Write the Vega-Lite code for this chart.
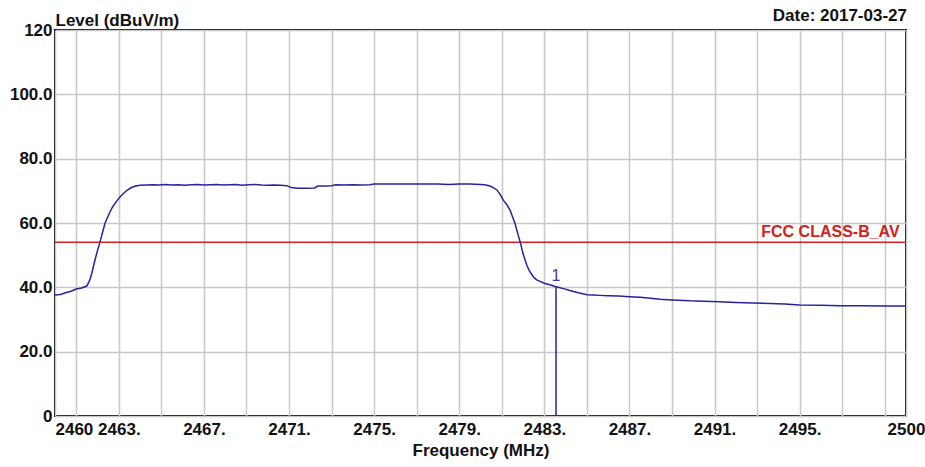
{
  "$schema": "https://vega.github.io/schema/vega-lite/v6.json",
  "width": 851,
  "height": 386,
  "autosize": {"type": "none"},
  "padding": {"left": 55, "top": 30, "right": 19, "bottom": 51},
  "background": "#ffffff",
  "config": {
    "font": "Liberation Sans",
    "view": {"stroke": "#000000", "strokeWidth": 2}
  },
  "datasets": {
    "trace": [
      {"f": 2460.00, "v": 37.6}, {"f": 2460.25, "v": 37.8}, {"f": 2460.50, "v": 38.3}, {"f": 2460.75, "v": 38.8},
      {"f": 2461.00, "v": 39.5}, {"f": 2461.25, "v": 39.8}, {"f": 2461.49, "v": 40.4}, {"f": 2461.62, "v": 42.0},
      {"f": 2461.73, "v": 44.4}, {"f": 2461.88, "v": 48.5}, {"f": 2462.00, "v": 51.5}, {"f": 2462.12, "v": 54.2},
      {"f": 2462.24, "v": 57.2}, {"f": 2462.35, "v": 59.9}, {"f": 2462.47, "v": 61.8}, {"f": 2462.59, "v": 63.5},
      {"f": 2462.70, "v": 64.9}, {"f": 2462.82, "v": 66.1}, {"f": 2462.98, "v": 67.5}, {"f": 2463.14, "v": 68.7},
      {"f": 2463.37, "v": 70.1}, {"f": 2463.61, "v": 71.1}, {"f": 2463.80, "v": 71.5}, {"f": 2464.00, "v": 71.7},
      {"f": 2464.3, "v": 71.8}, {"f": 2464.6, "v": 71.9}, {"f": 2464.9, "v": 71.8}, {"f": 2465.2, "v": 72.0},
      {"f": 2465.5, "v": 71.8}, {"f": 2465.8, "v": 71.9}, {"f": 2466.1, "v": 71.7}, {"f": 2466.4, "v": 71.9},
      {"f": 2466.7, "v": 72.0}, {"f": 2467.0, "v": 71.8}, {"f": 2467.3, "v": 71.9}, {"f": 2467.6, "v": 72.0},
      {"f": 2467.9, "v": 71.8}, {"f": 2468.2, "v": 71.9}, {"f": 2468.5, "v": 72.0}, {"f": 2468.8, "v": 71.7},
      {"f": 2469.1, "v": 71.9}, {"f": 2469.4, "v": 72.0}, {"f": 2469.7, "v": 71.8}, {"f": 2470.0, "v": 71.7},
      {"f": 2470.3, "v": 71.8}, {"f": 2470.6, "v": 71.7}, {"f": 2470.9, "v": 71.6}, {"f": 2471.1, "v": 71.0},
      {"f": 2471.4, "v": 70.8}, {"f": 2471.8, "v": 70.8}, {"f": 2472.2, "v": 70.9}, {"f": 2472.35, "v": 71.5},
      {"f": 2472.7, "v": 71.5}, {"f": 2473.0, "v": 71.6}, {"f": 2473.2, "v": 71.9}, {"f": 2473.6, "v": 71.8},
      {"f": 2474.0, "v": 71.9}, {"f": 2474.4, "v": 71.8}, {"f": 2474.8, "v": 71.9}, {"f": 2475.0, "v": 72.1},
      {"f": 2475.5, "v": 72.1}, {"f": 2476.0, "v": 72.1}, {"f": 2476.5, "v": 72.1}, {"f": 2477.0, "v": 72.1},
      {"f": 2477.5, "v": 72.1}, {"f": 2478.0, "v": 72.1}, {"f": 2478.5, "v": 72.0}, {"f": 2479.0, "v": 72.1},
      {"f": 2479.5, "v": 72.1}, {"f": 2480.0, "v": 72.0}, {"f": 2480.2, "v": 71.9}, {"f": 2480.45, "v": 71.5},
      {"f": 2480.6, "v": 71.0}, {"f": 2480.78, "v": 70.2}, {"f": 2480.95, "v": 68.6}, {"f": 2481.07, "v": 67.1},
      {"f": 2481.23, "v": 65.8}, {"f": 2481.39, "v": 64.0}, {"f": 2481.5, "v": 62.0}, {"f": 2481.62, "v": 59.9},
      {"f": 2481.74, "v": 57.0}, {"f": 2481.86, "v": 54.2}, {"f": 2482.0, "v": 50.5}, {"f": 2482.17, "v": 47.0},
      {"f": 2482.29, "v": 45.2}, {"f": 2482.41, "v": 44.0}, {"f": 2482.52, "v": 43.0}, {"f": 2482.64, "v": 42.3},
      {"f": 2482.85, "v": 41.7}, {"f": 2483.03, "v": 41.2}, {"f": 2483.3, "v": 40.7}, {"f": 2483.55, "v": 40.2},
      {"f": 2483.9, "v": 39.6}, {"f": 2484.2, "v": 39.0}, {"f": 2484.6, "v": 38.3}, {"f": 2485.0, "v": 37.7},
      {"f": 2485.3, "v": 37.6}, {"f": 2485.6, "v": 37.5}, {"f": 2486.0, "v": 37.4}, {"f": 2486.5, "v": 37.3},
      {"f": 2487.0, "v": 37.1}, {"f": 2487.5, "v": 36.9}, {"f": 2488.0, "v": 36.6}, {"f": 2488.44, "v": 36.3},
      {"f": 2489.0, "v": 36.1}, {"f": 2489.85, "v": 35.8}, {"f": 2490.5, "v": 35.7}, {"f": 2491.26, "v": 35.5},
      {"f": 2492.0, "v": 35.3}, {"f": 2492.8, "v": 35.1}, {"f": 2493.6, "v": 35.0}, {"f": 2494.3, "v": 34.8},
      {"f": 2495.0, "v": 34.5}, {"f": 2496.0, "v": 34.4}, {"f": 2496.9, "v": 34.3}, {"f": 2498.0, "v": 34.3},
      {"f": 2499.0, "v": 34.2}, {"f": 2500.0, "v": 34.2}
    ],
    "limit": [{"f": 2460, "f2": 2500, "v": 54, "tf": 2499.7, "label": "FCC CLASS-B_AV"}],
    "marker": [{"f": 2483.55, "v": 40.2, "label": "1"}],
    "info": [{"f": 2500, "v": 120, "label": "Date: 2017-03-27"}]
  },
  "encoding": {
    "x": {
      "field": "f",
      "type": "quantitative",
      "scale": {"domain": [2460, 2500], "nice": false, "zero": false},
      "axis": {
        "title": "Frequency (MHz)",
        "values": [2460, 2461, 2463, 2465, 2467, 2469, 2471, 2473, 2475, 2477, 2479, 2481, 2483, 2485, 2487, 2489, 2491, 2493, 2495, 2497, 2499, 2500],
        "labelExpr": "datum.value == 2460 || datum.value == 2500 ? '' + datum.value : ((datum.value >= 2463 && datum.value <= 2495 && (datum.value - 2463) % 4 == 0) ? datum.value + '.' : '')",
        "ticks": false,
        "domain": false,
        "labelFlush": false,
        "labelOverlap": false,
        "labelAlign": {"condition": {"test": "datum.value == 2460", "value": "left"}, "value": "center"},
        "labelFont": "Liberation Sans",
        "labelFontSize": 17,
        "labelFontWeight": "bold",
        "labelColor": "#111111",
        "labelPadding": 5,
        "titleFont": "Liberation Sans",
        "titleFontSize": 17,
        "titleFontWeight": "bold",
        "titleColor": "#111111",
        "titlePadding": 5,
        "gridColor": "#c8c8c8",
        "gridWidth": 1.5
      }
    },
    "y": {
      "field": "v",
      "type": "quantitative",
      "scale": {"domain": [0, 120], "nice": false, "zero": true},
      "axis": {
        "title": "Level (dBuV/m)",
        "values": [0, 20, 40, 60, 80, 100, 120],
        "labelExpr": "datum.value == 0 ? '0' : (datum.value == 120 ? '120' : format(datum.value, '.1f'))",
        "ticks": false,
        "domain": false,
        "labelFont": "Liberation Sans",
        "labelFontSize": 17,
        "labelFontWeight": "bold",
        "labelColor": "#111111",
        "labelPadding": 3,
        "titleFont": "Liberation Sans",
        "titleFontSize": 17,
        "titleFontWeight": "bold",
        "titleColor": "#111111",
        "titleAngle": 0,
        "titleAlign": "left",
        "titleBaseline": "alphabetic",
        "titleX": 0,
        "titleY": -5,
        "gridColor": "#c8c8c8",
        "gridWidth": 1.5
      }
    }
  },
  "layer": [
    {
      "data": {"name": "limit"},
      "mark": {"type": "rule", "color": "#d42020", "strokeWidth": 1.5},
      "encoding": {"x2": {"field": "f2"}}
    },
    {
      "data": {"name": "trace"},
      "mark": {"type": "line", "color": "#24249c", "strokeWidth": 1.5}
    },
    {
      "data": {"name": "marker"},
      "mark": {"type": "rule", "color": "#24249c", "strokeWidth": 1.5},
      "encoding": {"y2": {"datum": 0}}
    },
    {
      "data": {"name": "marker"},
      "mark": {"type": "text", "color": "#3a3ab0", "fontSize": 16, "font": "Liberation Sans", "align": "center", "baseline": "alphabetic", "dy": -6},
      "encoding": {"text": {"field": "label"}}
    },
    {
      "data": {"name": "limit"},
      "mark": {"type": "text", "color": "#d42020", "fontSize": 16, "fontWeight": "bold", "font": "Liberation Sans", "align": "right", "baseline": "alphabetic", "dy": -5.5},
      "encoding": {"x": {"field": "tf", "type": "quantitative"}, "text": {"field": "label"}}
    },
    {
      "data": {"name": "info"},
      "mark": {"type": "text", "color": "#111111", "fontSize": 17, "fontWeight": "bold", "font": "Liberation Sans", "align": "right", "baseline": "alphabetic", "dy": -9, "dx": 1},
      "encoding": {"text": {"field": "label"}}
    }
  ]
}
